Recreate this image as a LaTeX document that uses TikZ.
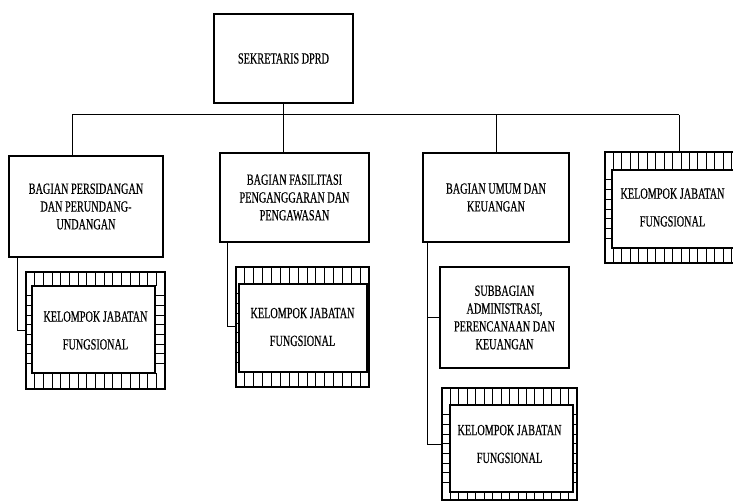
\documentclass[tikz,border=0pt]{standalone}
\usepackage{fontspec}
\setmainfont{Liberation Serif}[FakeStretch=0.66,FakeBold=0.4]
\newcommand{\kjframe}[8]{%
  \pgfmathtruncatemacro{\nh}{round((#3-#1)/8.7)}%
  \pgfmathsetmacro{\dh}{(#3-#1)/\nh}%
  \pgfmathtruncatemacro{\nhm}{\nh-1}%
  \pgfmathsetmacro{\vi}{#4-#2-#6-#8}%
  \pgfmathtruncatemacro{\nv}{round(\vi/9.5)}%
  \pgfmathsetmacro{\dv}{\vi/\nv}%
  \pgfmathtruncatemacro{\nvm}{\nv-1}%
  \draw[tick] \foreach \k in {1,...,\nhm}{({#1+\k*\dh},#2) -- ++(0,#6) ({#1+\k*\dh},#4) -- ++(0,-#8)};
  \draw[tick] \foreach \k in {1,...,\nvm}{(#1,{#2+#6+\k*\dv}) -- ++(#5,0) (#3,{#2+#6+\k*\dv}) -- ++(-#7,0)};
  \draw[innerfr] (#1+#5,#2+#6) rectangle (#3-#7,#4-#8);
}
\begin{document}
\begin{tikzpicture}[x=1pt,y=-1pt,
  box/.style={draw, line width=1.1pt, align=center, inner sep=0pt,
    font=\fontsize{15.5}{17.8}\selectfont},
  conn/.style={line width=1pt},
  tick/.style={line width=0.8pt},
  innerfr/.style={line width=1.4pt}]
\clip (0,0) rectangle (733,502);
\fill[white] (0,0) rectangle (733,502);

% main boxes
\node[box, minimum width=139pt, minimum height=89pt] (sek) at (283.5,58.5) {SEKRETARIS DPRD};
\node[box, minimum width=154pt, minimum height=101pt] (b1) at (86,206.5) {BAGIAN PERSIDANGAN\\DAN PERUNDANG-\\UNDANGAN};
\node[box, minimum width=149pt, minimum height=89pt] (b2) at (294.5,197.5) {BAGIAN FASILITASI\\PENGANGGARAN DAN\\PENGAWASAN};
\node[box, minimum width=146pt, minimum height=89pt] (b3) at (496,197.5) {BAGIAN UMUM DAN\\KEUANGAN};
\node[box, minimum width=129pt, minimum height=101pt] (sub) at (504.5,317.5) {SUBBAGIAN\\ADMINISTRASI,\\PERENCANAAN DAN\\KEUANGAN};

% kelompok jabatan fungsional boxes
\node[box, minimum width=139pt, minimum height=117pt] (k1) at (95.5,330.5) {KELOMPOK JABATAN\\[10pt]FUNGSIONAL};
\kjframe{26}{272}{165}{389}{6}{14}{10}{16}
\node[box, minimum width=133pt, minimum height=120pt] (k2) at (302.5,327) {KELOMPOK JABATAN\\[10pt]FUNGSIONAL};
\kjframe{236}{267}{369}{387}{3}{17}{2}{15}
\node[box, minimum width=135pt, minimum height=112pt] (k3) at (509.5,444) {KELOMPOK JABATAN\\[10pt]FUNGSIONAL};
\kjframe{442}{388}{577}{500}{8}{17}{4}{8}
\node[box, minimum width=135pt, minimum height=111pt] (k4) at (672.5,207.5) {KELOMPOK JABATAN\\[10pt]FUNGSIONAL};
\kjframe{605}{152}{740}{263}{7}{18}{6}{15}

% connectors
\coordinate (busL) at (72,115);
\coordinate (busR) at (679,115);
\draw[conn] (busL) -- (busR);
\draw[conn] (sek.south) -- (sek.south |- b2.north);
\draw[conn] (busL) -- (busL |- b1.north);
\draw[conn] (b3.north) -- (b3.north |- busL);
\draw[conn] (busR) -- (busR |- k4.north);
\draw[conn] ([xshift=9pt]b1.south west) |- (k1.west);
\draw[conn] ([xshift=8pt]b2.south west) |- (k2.west);
\draw[conn] ([xshift=5pt]b3.south west) |- (k3.west);
\draw[conn] ([xshift=5pt]b3.south west |- sub.west) -- (sub.west);
\end{tikzpicture}
\end{document}
